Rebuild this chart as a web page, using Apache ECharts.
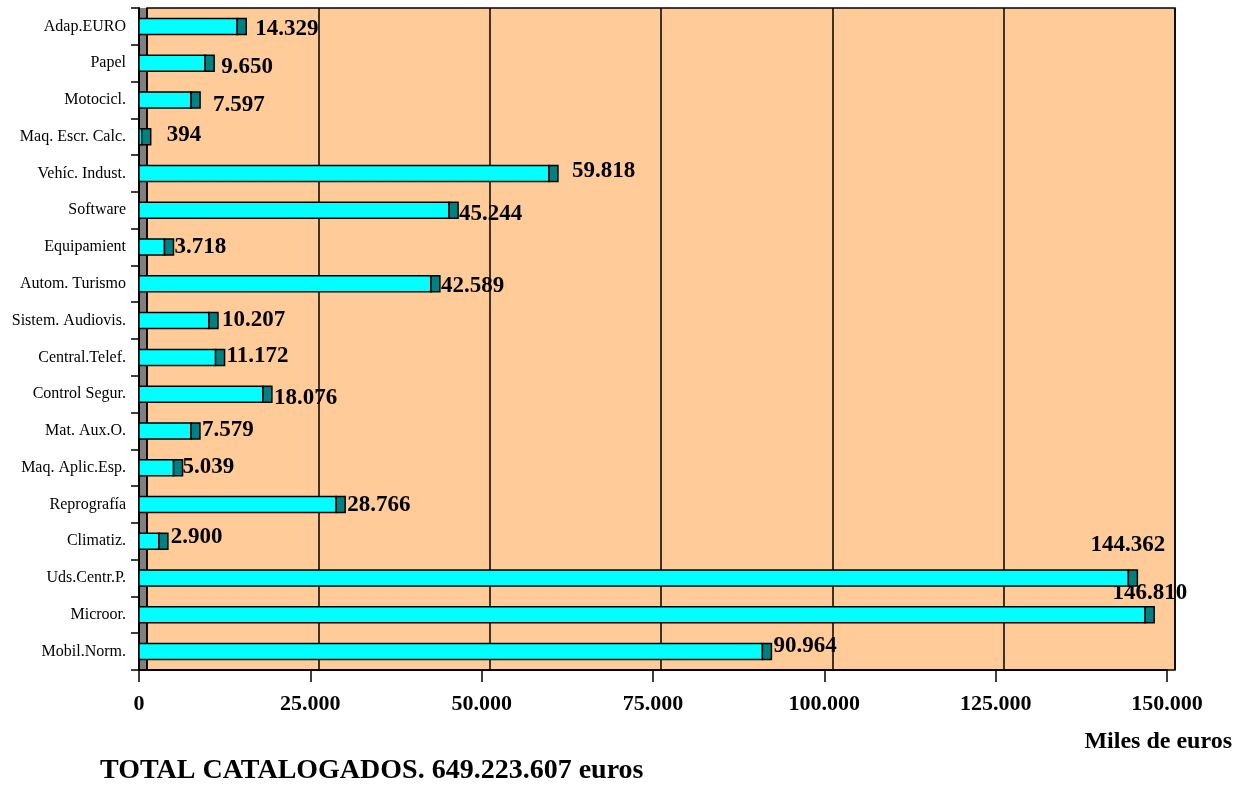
<!DOCTYPE html>
<html><head><meta charset="utf-8">
<script src="https://cdn.jsdelivr.net/npm/echarts@6/dist/echarts.min.js"></script>
<style>html,body{margin:0;padding:0;background:#fff}#c{width:1248px;height:788px}</style>
</head><body><div id="c"></div>
<script>
// Data (bottom to top)
const categories = ['Mobil.Norm.','Microor.','Uds.Centr.P.','Climatiz.','Reprografía','Maq. Aplic.Esp.','Mat. Aux.O.','Control Segur.','Central.Telef.','Sistem. Audiovis.','Autom. Turismo','Equipamient','Software','Vehíc. Indust.','Maq. Escr. Calc.','Motocicl.','Papel','Adap.EURO'];
const values = [90964,146810,144362,2900,28766,5039,7579,18076,11172,10207,42589,3718,45244,59818,394,7597,9650,14329];
const xTicks = {min:0, max:150000, interval:25000};
const axisTitle = 'Miles de euros';
const totalText = 'TOTAL CATALOGADOS. 649.223.607 euros';

function fmt(v){ return String(v).replace(/\B(?=(\d{3})+(?!\d))/g,'.'); }

// label nudges (style only): [dx, dy, align]
const nudge = {
 'Adap.EURO':[9,3],'Papel':[7,4],'Motocicl.':[13,5],'Maq. Escr. Calc.':[16,-2],'Vehíc. Indust.':[14,-2],
 'Software':[1,4],'Equipamient':[1,0],'Autom. Turismo':[1,2],'Sistem. Audiovis.':[4,-1],'Central.Telef.':[2,-1],
 'Control Segur.':[2,4],'Mat. Aux.O.':[2,-1],'Maq. Aplic.Esp.':[0,-1],'Reprografía':[2,1],'Climatiz.':[3,-4],
 'Uds.Centr.P.':[28,-33,'right'],'Microor.':[33,-22,'right'],'Mobil.Norm.':[2,-6]
};

const DEPTH = 9, BARH = 16;
const chart = echarts.init(document.getElementById('c'));
const serif = "'Liberation Serif','Times New Roman',serif";
chart.setOption({
 animation:false,
 grid:[
  {left:139,right:81,top:8,bottom:118,show:true,backgroundColor:'#808080',borderWidth:0,containLabel:false},
  {left:147,right:73,top:8,bottom:118,show:true,backgroundColor:'#FFCC99',borderColor:'#000',borderWidth:1.5,containLabel:false}
 ],
 xAxis:[
  {gridIndex:0,type:'value',min:xTicks.min,max:xTicks.max,interval:xTicks.interval,
   axisLine:{show:true,lineStyle:{color:'#000',width:2}},
   axisTick:{show:true,inside:false,length:12,lineStyle:{color:'#000',width:1.5}},
   splitLine:{show:false},
   axisLabel:{formatter:v=>fmt(v),color:'#000',fontFamily:serif,fontWeight:'bold',fontSize:22,margin:23}},
  {gridIndex:1,type:'value',min:xTicks.min,max:xTicks.max,interval:xTicks.interval,
   axisLine:{show:false},axisTick:{show:false},axisLabel:{show:false},
   splitLine:{show:true,lineStyle:{color:'#000',width:1.5}}}
 ],
 yAxis:[
  {gridIndex:0,type:'category',data:categories,
   axisLine:{show:true,lineStyle:{color:'#000',width:2}},
   axisTick:{show:true,inside:false,length:8,lineStyle:{color:'#000',width:1.5}},
   axisLabel:{color:'#000',fontFamily:serif,fontSize:16,margin:13}},
  {gridIndex:1,type:'category',data:categories,show:false}
 ],
 series:[{
  type:'custom',xAxisIndex:0,yAxisIndex:0,z:5,
  data:values.map((v,i)=>[v,i]),
  encode:{x:0,y:1},
  renderItem:function(params,api){
   const v=api.value(0), idx=api.value(1);
   const s=api.coord([0,idx]), e=api.coord([v,idx]);
   const name=categories[idx];
   const n=nudge[name]||[3,0];
   const capEnd=e[0]+DEPTH;
   const align=n[2]||'left';
   return {type:'group',children:[
    {type:'rect',shape:{x:s[0],y:s[1]-BARH/2,width:Math.max(e[0]-s[0],0),height:BARH},
     style:{fill:'#00FFFF',stroke:'#000',lineWidth:1.5}},
    {type:'rect',shape:{x:e[0],y:e[1]-BARH/2,width:DEPTH,height:BARH},
     style:{fill:'#008080',stroke:'#000',lineWidth:1.5}},
    {type:'text',x:capEnd+n[0],y:e[1]+n[1],
     style:{text:fmt(v),fill:'#000',font:"bold 23px "+serif,textAlign:align,textVerticalAlign:'middle'}}
   ]};
  }
 }],
 graphic:[
  {type:'text',right:16,top:730,style:{text:axisTitle,fill:'#000',font:"bold 24px "+serif}},
  {type:'text',left:100,top:757,style:{text:totalText,fill:'#000',font:"bold 28px "+serif}}
 ]
});
</script></body></html>
